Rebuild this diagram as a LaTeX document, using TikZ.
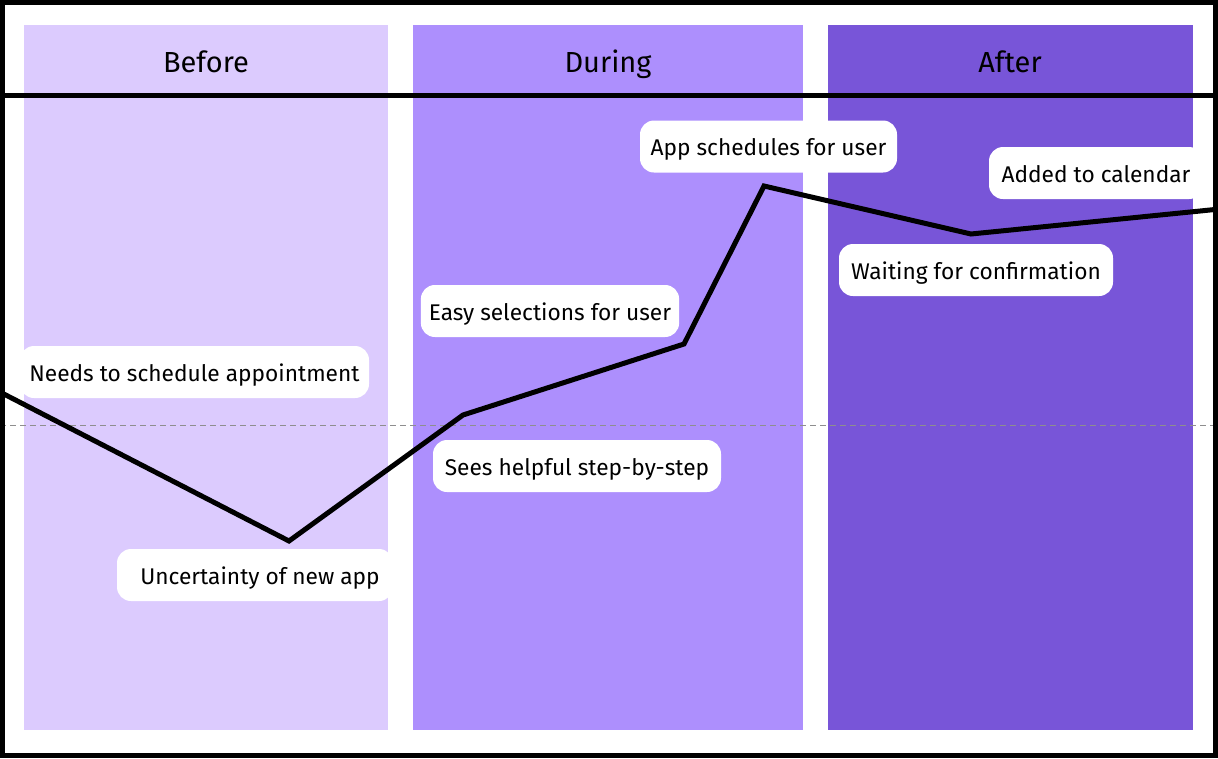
\documentclass[tikz,border=0pt]{standalone}
\usepackage{fontspec}
\setmainfont{Fira Sans}
\definecolor{colA}{HTML}{DCCBFE}
\definecolor{colB}{HTML}{AD8FFD}
\definecolor{colC}{HTML}{7855D8}
\definecolor{dashgray}{HTML}{8E8E8E}
\begin{document}
\begin{tikzpicture}[x=1pt,y=-1pt,
  phase/.style={fill=#1,draw=none},
  head/.style={font=\fontsize{29}{33}\selectfont,text=black,inner sep=0pt,anchor=base},
  lbl/.style={fill=white,draw=none,rounded corners=14pt,minimum height=52pt,
    inner xsep=8pt,inner ysep=0pt,text height=18pt,text depth=0pt,
    font=\fontsize{22.7}{26}\selectfont,text=black},
  journey/.style={line width=5pt,draw=black,line join=miter},
  frame/.style={line width=5pt,draw=black}]
\useasboundingbox (0,0) rectangle (1218,758);
\fill[white] (0,0) rectangle (1218,758);
% columns
\path[phase=colA] (24,25) rectangle (388,730);
\path[phase=colB] (413,25) rectangle (803,730);
\path[phase=colC] (828,25) rectangle (1193,730);
% headers
\node[head] (hBefore) at (206,72) {Before};
\node[head] (hDuring) at (608,72) {During};
\node[head] (hAfter) at (1010,72) {After};
% dashed baseline
\coordinate (dL) at (0,425.5);
\coordinate (dR) at (1218,425.5);
\draw[dashgray,line width=1pt,dash pattern=on 6pt off 4pt] (dL) -- (dR);
% journey points
\coordinate (p0) at (-2,391);
\coordinate (p1) at (289,541);
\coordinate (p2) at (463,415);
\coordinate (p3) at (684,344);
\coordinate (p4) at (764,186);
\coordinate (p5) at (971,234);
\coordinate (p6) at (1220,209);
\draw[journey] (p0) -- (p1) -- (p2) -- (p3) -- (p4) -- (p5) -- (p6);
% labels
\node[lbl,minimum width=349pt] (l1) at (194.5,372) {Needs to schedule appointment};
\node[lbl,minimum width=276pt] (l2) at (255,575) {\hspace{10pt}Uncertainty of new app};
\node[lbl,minimum width=258pt] (l3) at (550,311) {Easy selections for user};
\node[lbl,minimum width=288pt] (l4) at (577,466) {Sees helpful step-by-step};
\node[lbl,minimum width=257pt] (l5) at (768.5,146.5) {App schedules for user};
\node[lbl,minimum width=214pt] (l6) at (1096,173) {Added to calendar};
\node[lbl,minimum width=274pt] (l7) at (976,270) {Waiting for confirmation};
% frame and header rule
\coordinate (hL) at (0,95.5);
\coordinate (hR) at (1218,95.5);
\draw[frame] (hL) -- (hR);
\draw[frame] (2.5,2.5) rectangle (1215.5,755.5);
\end{tikzpicture}
\end{document}
